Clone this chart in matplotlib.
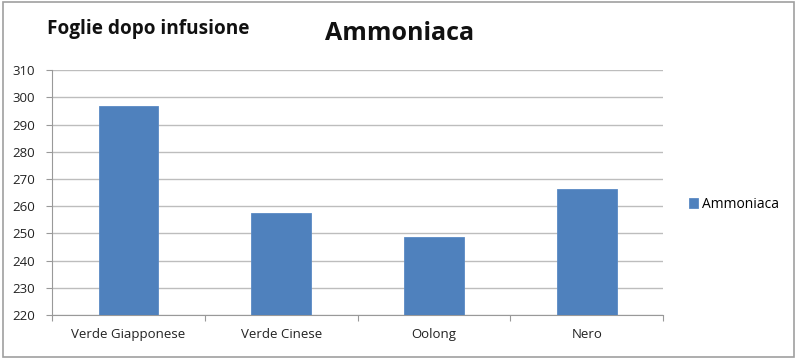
import matplotlib
matplotlib.use("Agg")
import matplotlib.pyplot as plt
from matplotlib.patches import Rectangle

categories = ["Verde Giapponese", "Verde Cinese", "Oolong", "Nero"]
values = [296.8, 257.6, 248.8, 266.3]
series_name = "Ammoniaca"
yticks = [220, 230, 240, 250, 260, 270, 280, 290, 300, 310]

plt.rcParams['font.family'] = ['Open Sans', 'DejaVu Sans']

fig = plt.figure(figsize=(8, 3.58), dpi=100)
ax = fig.add_axes([0.065, 0.12, 0.764, 0.684])

x = list(range(len(categories)))
ax.bar(x, values, width=0.39, color="#4F81BD", edgecolor="#5a8ac4", linewidth=0.6,
       label=series_name, zorder=3)
ax.set_ylim(220, 310)
ax.set_xlim(-0.5, len(categories) - 0.5)
ax.set_yticks(yticks)
ax.set_yticklabels([str(v) for v in yticks], fontsize=9.5, color="#222222")
ax.set_xticks(x)
ax.set_xticklabels(categories, fontsize=9.5, color="#222222")
ax.tick_params(axis='x', length=0, pad=9)
ax.tick_params(axis='y', length=4, color="#999999", width=0.8, pad=8)
ax.set_xticks([i - 0.5 for i in range(len(categories) + 1)], minor=True)
ax.tick_params(axis='x', which='minor', length=4, color="#999999", width=0.8)

ax.grid(axis='y', color="#bdbdbd", linewidth=1.0, zorder=0)
for s in ['top', 'right']:
    ax.spines[s].set_visible(False)
ax.spines['left'].set_color("#999999")
ax.spines['bottom'].set_color("#999999")

fig.text(0.0588, 0.918, "Foglie dopo infusione", fontsize=13.7, fontweight='bold',
         ha='left', va='center', color="#111111")
fig.text(0.5, 0.906, "Ammoniaca", fontsize=18, fontweight='bold',
         ha='center', va='center', color="#111111")

leg = fig.legend(loc='center left', bbox_to_anchor=(0.845, 0.43), frameon=False,
                 fontsize=10, handlelength=0.7, handleheight=0.7, handletextpad=0.3)

fig.patches.append(Rectangle((0.004, 0.004), 0.988, 0.99, transform=fig.transFigure,
                             fill=False, edgecolor="#a0a0a0", linewidth=1.2))

fig.savefig("out.png", dpi=100)
